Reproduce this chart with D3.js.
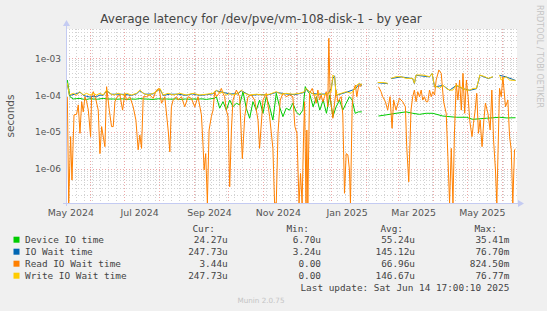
<!DOCTYPE html>
<html>
<head>
<meta charset="utf-8">
<script src="https://cdn.jsdelivr.net/npm/d3@7"></script>
<style>
  body { margin: 0; background: #f0f0f0; }
  svg { display: block; font-family: "DejaVu Sans", sans-serif; }
</style>
</head>
<body>
<svg id="chart"></svg>
<script>
// time range of the graph (400 days ending at last update)
const endTime = Date.UTC(2025, 5, 14, 17, 0, 10);
const startTime = endTime - 400 * 864e5;

// series: [days since graph start, microseconds], null = no data
const deviceIO = [[1.2,254],[3.5,90],[6.5,78],[9.5,80],[12.4,81],[15.3,77],[18.3,76],[21,79],[24.2,78],[28,77],[33,81],[37,78],[41.9,78],[46,77],[50,79],[53.7,76],[58,78],[61.5,77],[65.5,80],[70,78],[73.5,77],[77.3,76],[82,79],[85,78],[89.1,78],[94,77],[97,79],[100.9,76],[106,78],[109,77],[112.7,78],[117,77],[120,79],[124.5,76],[128,79],[131.9,81],[133.4,90],[136.3,44],[139.3,66],[142.2,39],[145.2,73],[148.1,48],[151.1,60],[154,54],[157,123],[159.9,44],[162.9,23.5],[165.8,66],[168.8,39],[171.7,73],[174.7,32],[177.6,90],[180.6,48],[183.5,21],[186.5,111],[189.4,48],[192.4,26],[195.3,44],[198.3,39],[201.2,60],[204.2,35],[207.1,29],[210.1,39],[212.2,168],[214.5,123],[216,111],[219.2,48],[222.1,90],[225.1,39],[228.1,73],[231,32],[234,100],[236.7,26],[239.6,48],[242.6,73],[245.5,39],[248.5,60],[251.4,90],[253.8,73],[256.5,32],[259.4,35],[262.4,35],[268,null],[277.1,27],[283.9,29],[292.7,32],[301.6,35],[307.5,32],[313.5,30],[319.4,32],[325.4,32],[334.2,27],[346.1,25],[355,25],[360.9,22],[372.7,23.5],[384.5,25],[391,24],[398.7,24.3]];

const ioWait = [[1.2,200],[3,98],[8,105],[12.4,118],[16,96],[18.3,92],[21.2,88],[24.2,92],[27.1,90],[30.1,100],[33,98],[36,130],[40,105],[46,105],[52,104],[58,98],[62.6,108],[65.5,130],[70,105],[77.3,107],[83.2,145],[86.2,98],[92,105],[100,105],[106,98],[112,107],[118.6,98],[124.5,102],[130.4,108],[133.4,130],[139.3,118],[145.2,107],[152.6,108],[155.5,130],[162.9,98],[170,102],[180,102],[186.5,118],[195,107],[203,102],[211.6,118],[213,145],[218,110],[224.9,105],[232.2,107],[235.2,150],[236.7,280],[238.2,330],[239.6,98],[248.5,118],[256.5,145],[260.2,200],[262.4,180],[268,null],[276.5,214],[285.3,204],[286.8,null],[288.2,278],[297.1,309],[307.5,278],[309,204],[310.5,342],[322.4,309],[324.7,380],[326.9,165],[334.3,182],[340.2,134],[346.1,182],[352.1,148],[358.1,134],[364.1,148],[367.1,342],[374.5,278],[378.6,309],[381.5,null],[384.5,342],[390.3,309],[398.7,248]];

const readWait = [[1.2,90],[2.4,0],[4.1,7.5],[5.3,0.5],[7.1,29],[9.4,30],[10.9,54],[12.4,9.2],[13.9,66],[15.3,35],[16.8,90],[18.3,66],[19.8,39],[21.8,7.5],[22.7,90],[24.2,123],[26.6,73],[28.6,39],[30.1,2.6],[31.6,14],[34.5,4],[36,168],[38.4,39],[40.4,14],[41.9,14],[43.4,66],[45.4,90],[47.8,100],[50.2,39],[52.2,111],[53.7,73],[56.7,90],[59.6,48],[62,21],[64,3.3],[65.5,8.3],[67,3.6],[68.5,90],[71.4,90],[74.4,100],[77.3,81],[80.3,136],[82.6,151],[84.7,60],[87.6,90],[90.6,11.3],[92.1,2.9],[93.5,48],[95,73],[98,90],[99.4,73],[102.4,90],[105.3,48],[108.3,90],[111.2,81],[114.2,48],[117.1,90],[120.1,29],[121.6,4],[122.5,0.94],[123.9,2.6],[125.4,0],[126.9,11.3],[128.9,26],[130.4,39],[131.9,123],[133.4,90],[135.7,111],[137.8,151],[139.3,111],[140.7,90],[142.2,39],[143.7,26],[145.2,0.33],[146.7,11.3],[148.1,73],[151.1,136],[154,90],[156.4,1.9],[158.5,26],[161.4,90],[164.4,100],[167.3,73],[170.3,21],[171.7,3.6],[174.7,73],[177.6,111],[180.6,26],[183.5,3.6],[185,0],[186.5,0],[188,9.2],[190,73],[192.4,111],[195.3,90],[198.3,100],[201.2,90],[203,14],[204.8,9.2],[205.8,0.94],[206.7,0],[208,0.76],[209.4,0],[210.7,7.5],[211.6,66],[212.9,0],[213.6,11.3],[214.5,0],[216,111],[218.4,151],[220.4,90],[221.9,60],[223.4,136],[224.9,73],[226.3,100],[227.8,66],[229.3,90],[230.8,123],[232.2,48],[233.1,3400],[234.3,90],[236.7,23.5],[238.2,60],[239.6,136],[241.1,66],[244.1,90],[245.5,29],[247,0.22],[248.5,2.6],[250,2.4],[251.4,0.94],[252.3,0],[253.8,48],[255,136],[256.7,186],[257.9,90],[259.7,186],[260.9,168],[262.2,200],[268,null],[277.1,168],[279.4,123],[280.9,90],[283.3,66],[285.3,39],[287.4,90],[289.2,12.6],[290.6,73],[292.7,39],[295.7,81],[298.6,66],[301,48],[302.2,4],[304,0.45],[306,39],[307.5,90],[309,136],[310.5,66],[312,123],[313.5,90],[315,136],[316.4,73],[317.9,90],[319.4,66],[320.9,66],[322.4,136],[323.9,90],[325.4,123],[326.9,100],[328.3,254],[330.7,474],[332.8,385],[334.9,66],[337.2,32],[338.7,2.2],[340.2,0],[341.7,3.6],[343.2,0],[344.6,11.3],[346.1,207],[347.6,73],[349.1,254],[350.6,39],[352.1,385],[353.6,32],[355.1,254],[356.6,90],[358.2,19],[360.1,7.5],[361.4,17],[362.9,39],[364.3,111],[365.8,9.2],[367.3,21],[369,4],[370.6,21],[372,60],[374.2,32],[376.2,11.3],[377.7,136],[379.2,6.1],[380.9,0.94],[382.1,0],[384.5,151],[386,90],[387.5,313],[389.8,48],[391.9,73],[393.4,7.5],[394.9,3.3],[396.3,0],[397.8,3.3],[398.7,3.44]];

const writeWait = [[1.2,207],[3,100],[6.5,111],[9.4,100],[12.4,123],[15.3,100],[18.3,111],[21.2,100],[24.2,111],[27.1,100],[30.1,111],[33,100],[36,136],[39,111],[41.9,100],[46.3,111],[50.8,100],[53.7,111],[58.1,100],[62.6,111],[65.5,136],[68.5,111],[72.9,100],[77.3,111],[80.3,123],[83.2,151],[86.2,100],[90.6,111],[95,100],[100.9,111],[106.8,100],[112.7,111],[118.6,100],[124.5,105],[130.4,111],[133.4,136],[136.3,111],[139.3,123],[142.2,100],[145.2,111],[148.1,100],[152.6,111],[155.5,136],[158.5,111],[162.9,100],[168.8,105],[174.7,100],[180.6,105],[186.5,123],[190.9,105],[195.3,111],[201.2,105],[207.1,111],[211.6,123],[213,151],[216,123],[220.4,100],[224.9,111],[229.3,100],[232.2,111],[235.2,123],[236.7,347],[238.2,313],[239.6,100],[244.1,111],[248.5,123],[252.9,111],[256.5,151],[257.9,186],[260.2,207],[262.4,186],[268,null],[276.5,218],[280.9,218],[285.3,207],[286.8,null],[288.2,282],[292.7,313],[297.1,313],[301.6,282],[307.5,282],[309,207],[310.5,347],[316.4,347],[322.4,313],[324.7,385],[326.9,168],[329,168],[331.4,151],[334.3,186],[337.2,151],[340.2,136],[343.2,136],[346.1,186],[349.1,168],[352.1,151],[355.1,136],[358.1,136],[361.1,151],[364.1,151],[367.1,347],[371.5,313],[374.5,282],[378.6,313],[381.5,null],[384.5,347],[386,254],[390.3,313],[393.3,254],[398.7,248]];

const seriesNames = ["Device IO time", "IO Wait time", "Read IO Wait time", "Write IO Wait time"];
const seriesColors = ["#00cc00", "#0066b3", "#ff8000", "#ffcc00"];
const seriesData = [deviceIO, ioWait, readWait, writeWait];

const curVals = ["24.27u", "247.73u", "3.44u", "247.73u"];
const minVals = ["6.70u", "3.24u", "0.00", "0.00"];
const avgVals = ["55.24u", "145.12u", "66.96u", "146.67u"];
const maxVals = ["35.41m", "76.70m", "824.50m", "76.77m"];

const yTicks = [1e-3, 1e-4, 1e-5, 1e-6];
const yTickLabels = ["1e-03", "1e-04", "1e-05", "1e-06"];
const xTickDates = ["2024-05-15", "2024-07-15", "2024-09-15", "2024-11-15", "2025-01-15", "2025-03-15", "2025-05-15"];
const xTickLabels = ["May 2024", "Jul 2024", "Sep 2024", "Nov 2024", "Jan 2025", "Mar 2025", "May 2025"];

const W = 547, H = 311;
const plot = { left: 66, right: 517, top: 29, bottom: 203 };

const svg = d3.select("#chart").attr("width", W).attr("height", H);
svg.append("rect").attr("width", W).attr("height", H).attr("fill", "#f0f0f0");

const x = d3.scaleUtc()
  .domain([new Date(startTime), new Date(endTime)])
  .range([plot.left, plot.right]);
const y = d3.scaleLog()
  .domain([1.2e-7, 6.1e-3])
  .range([plot.bottom, plot.top])
  .clamp(true);

svg.append("rect")
  .attr("x", plot.left).attr("y", plot.top)
  .attr("width", plot.right - plot.left).attr("height", plot.bottom - plot.top)
  .attr("fill", "#ffffff");

svg.append("defs").append("clipPath").attr("id", "clip")
  .append("rect")
  .attr("x", plot.left).attr("y", plot.top - 1)
  .attr("width", plot.right - plot.left).attr("height", plot.bottom - plot.top + 1);

// grid
const grid = svg.append("g").attr("shape-rendering", "crispEdges");
const isDecade = v => Math.abs(Math.log10(v) - Math.round(Math.log10(v))) < 1e-6;
const hTicks = y.ticks();
grid.selectAll(".hminor").data(hTicks.filter(v => !isDecade(v))).join("line")
  .attr("x1", plot.left).attr("x2", plot.right)
  .attr("y1", d => Math.round(y(d)) + 0.5).attr("y2", d => Math.round(y(d)) + 0.5)
  .attr("stroke", "#d2d2d2").attr("stroke-dasharray", "1,2");
const weeks = d3.utcMonday.range(new Date(startTime), new Date(endTime));
grid.selectAll(".vminor").data(weeks).join("line")
  .attr("x1", d => Math.round(x(d)) + 0.5).attr("x2", d => Math.round(x(d)) + 0.5)
  .attr("y1", plot.top).attr("y2", plot.bottom)
  .attr("stroke", "#d2d2d2").attr("stroke-dasharray", "1,2");
grid.selectAll(".hmajor").data(hTicks.filter(isDecade)).join("line")
  .attr("x1", plot.left).attr("x2", plot.right)
  .attr("y1", d => Math.round(y(d)) + 0.5).attr("y2", d => Math.round(y(d)) + 0.5)
  .attr("stroke", "#eda8a8").attr("stroke-dasharray", "1,2");
const months = d3.utcMonth.range(new Date(startTime), new Date(endTime));
grid.selectAll(".vmajor").data(months).join("line")
  .attr("x1", d => Math.round(x(d)) + 0.5).attr("x2", d => Math.round(x(d)) + 0.5)
  .attr("y1", plot.top).attr("y2", plot.bottom)
  .attr("stroke", "#eda8a8").attr("stroke-dasharray", "1,2");

// lines
const line = d3.line()
  .defined(d => d[1] !== null)
  .x(d => x(new Date(startTime + d[0] * 864e5)))
  .y(d => y(Math.max(d[1] * 1e-6, 1e-12)));

const lines = svg.append("g").attr("clip-path", "url(#clip)");
seriesData.forEach((s, i) => {
  lines.append("path")
    .datum(s)
    .attr("d", line)
    .attr("fill", "none")
    .attr("stroke", seriesColors[i])
    .attr("stroke-width", 1)
    .attr("stroke-linejoin", "round");
});

// axes
const axisColor = "#c4cbf2";
svg.append("line")
  .attr("x1", plot.left - 3).attr("x2", plot.right + 3)
  .attr("y1", plot.bottom + 0.5).attr("y2", plot.bottom + 0.5)
  .attr("stroke", axisColor);
svg.append("line")
  .attr("x1", plot.left + 0.5).attr("x2", plot.left + 0.5)
  .attr("y1", plot.bottom + 3).attr("y2", plot.top - 4)
  .attr("stroke", axisColor);
svg.append("path")
  .attr("d", `M${plot.right + 1},${plot.bottom - 3} L${plot.right + 7},${plot.bottom + 0.5} L${plot.right + 1},${plot.bottom + 4} Z`)
  .attr("fill", axisColor);
svg.append("path")
  .attr("d", `M${plot.left - 3},${plot.top - 3} L${plot.left + 0.5},${plot.top - 9} L${plot.left + 4},${plot.top - 3} Z`)
  .attr("fill", axisColor);

// tick labels
svg.append("g").selectAll("text").data(yTicks).join("text")
  .attr("x", plot.left - 5)
  .attr("y", d => y(d) + 3.5)
  .attr("text-anchor", "end")
  .attr("font-size", "9px")
  .attr("fill", "#555")
  .text((d, i) => yTickLabels[i]);

svg.append("g").selectAll("text").data(xTickDates).join("text")
  .attr("x", d => x(new Date(d + "T00:00:00Z")))
  .attr("y", 216)
  .attr("text-anchor", "middle")
  .attr("font-size", "9.4px")
  .attr("fill", "#555")
  .text((d, i) => xTickLabels[i]);

// title, axis label, watermark
svg.append("text")
  .attr("x", 261).attr("y", 23)
  .attr("text-anchor", "middle")
  .attr("font-size", "12px")
  .attr("fill", "#444")
  .text("Average latency for /dev/pve/vm-108-disk-1 - by year");

svg.append("text")
  .attr("transform", "translate(14,116) rotate(-90)")
  .attr("text-anchor", "middle")
  .attr("font-size", "10.5px")
  .attr("fill", "#555")
  .text("seconds");

svg.append("text")
  .attr("transform", "translate(537,5) rotate(90)")
  .attr("text-anchor", "start")
  .attr("font-size", "8px")
  .attr("fill", "#c4c4c4")
  .text("RRDTOOL / TOBI OETIKER");

// legend
const legend = svg.append("g")
  .attr("font-family", "'DejaVu Sans Mono', monospace")
  .attr("font-size", "9.4px")
  .attr("fill", "#444");

const headX = [215, 309, 403, 497];
const colX = [227.7, 321, 415, 509.3];
["Cur:", "Min:", "Avg:", "Max:"].forEach((h, j) => {
  legend.append("text").attr("x", headX[j]).attr("y", 231.5)
    .attr("text-anchor", "end").text(h);
});

const cols = [curVals, minVals, avgVals, maxVals];
seriesNames.forEach((name, i) => {
  const cy = 239.7 + i * 12;
  legend.append("rect")
    .attr("x", 13.5).attr("y", cy - 3).attr("width", 6).attr("height", 6)
    .attr("fill", seriesColors[i]);
  legend.append("text").attr("x", 25).attr("y", cy + 3.3).text(name);
  cols.forEach((c, j) => {
    legend.append("text").attr("x", colX[j]).attr("y", cy + 3.3)
      .attr("text-anchor", "end").text(c[i]);
  });
});

legend.append("text").attr("x", 509.3).attr("y", 291)
  .attr("text-anchor", "end")
  .text("Last update: Sat Jun 14 17:00:10 2025");

svg.append("text")
  .attr("x", 261).attr("y", 303)
  .attr("text-anchor", "middle")
  .attr("font-size", "7.2px")
  .attr("fill", "#c4c4c4")
  .text("Munin 2.0.75");
</script>
</body>
</html>
